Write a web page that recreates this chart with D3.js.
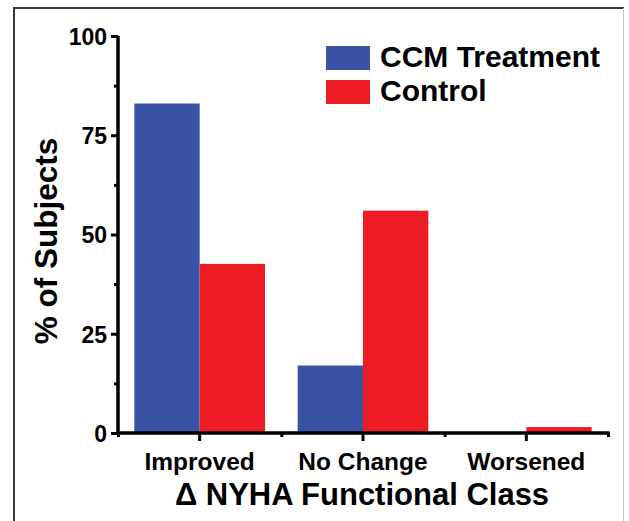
<!DOCTYPE html>
<html>
<head>
<meta charset="utf-8">
<script src="https://cdn.jsdelivr.net/npm/d3@7"></script>
<style>
  html, body { margin: 0; padding: 0; background: #fff; }
  svg { display: block; }
  text { font-family: "Liberation Sans", Arial, Helvetica, sans-serif; font-weight: bold; fill: #000; }
</style>
</head>
<body>
<script>
const categories = ["Improved", "No Change", "Worsened"];
const seriesNames = ["CCM Treatment", "Control"];
const ccmValues = [83, 17, 0];
const controlValues = [42.6, 56, 1.5];
const yTicks = [0, 25, 50, 75, 100];
const yMinorTicks = [12.5, 37.5, 62.5, 87.5];
const colors = ["#3953A4", "#ED1C24"];

const W = 629, H = 521;
const svg = d3.select("body").append("svg").attr("width", W).attr("height", H);

// frame
svg.append("line").attr("x1", 14).attr("y1", 8).attr("x2", 14).attr("y2", H).attr("stroke", "#3a3a3a").attr("stroke-width", 2);
svg.append("line").attr("x1", 13).attr("y1", 8).attr("x2", 624).attr("y2", 8).attr("stroke", "#3a3a3a").attr("stroke-width", 2);
svg.append("line").attr("x1", 623.5).attr("y1", 8).attr("x2", 623.5).attr("y2", H).attr("stroke", "#c8c8c8").attr("stroke-width", 1);

const x0 = d3.scaleBand().domain(categories).range([118, 608]).paddingInner(0.2).paddingOuter(0.1);
const x1 = d3.scaleBand().domain(seriesNames).range([0, x0.bandwidth()]);
const y = d3.scaleLinear().domain([0, 100]).range([433, 36]);
const xBound = d3.scaleLinear().domain([0, categories.length]).range([118, 608]);

const data = categories.map((c, i) => ({ cat: c, vals: [ccmValues[i], controlValues[i]] }));

// bars
const g = svg.append("g");
data.forEach(d => {
  d.vals.forEach((v, j) => {
    g.append("rect")
      .attr("x", x0(d.cat) + x1(seriesNames[j]))
      .attr("y", y(v))
      .attr("width", x1.bandwidth())
      .attr("height", y(0) - y(v))
      .attr("fill", colors[j]);
  });
});

// y axis
const yAxis = svg.append("g").attr("transform", "translate(118,0)")
  .call(d3.axisLeft(y).tickValues(yTicks).tickSize(7).tickPadding(4).tickFormat(d3.format("d")));
const yMinor = svg.append("g").attr("transform", "translate(118,0)")
  .call(d3.axisLeft(y).tickValues(yMinorTicks).tickSize(4).tickFormat(""));
[yAxis, yMinor].forEach(a => {
  a.select(".domain").attr("stroke", "#000").attr("stroke-width", 3).attr("d", "M0," + y(100) + "V" + y(0));
  a.selectAll(".tick line").attr("stroke", "#000").attr("stroke-width", 3);
});
yAxis.selectAll("text").style("font-size", "23px").attr("dy", "0.36em");

// x axis
const xAxis = svg.append("g").attr("transform", "translate(0,433)")
  .call(d3.axisBottom(x0).tickSize(8).tickPadding(12));
const xMinor = svg.append("g").attr("transform", "translate(0,433)")
  .call(d3.axisBottom(xBound).tickValues(d3.range(categories.length + 1)).tickSize(4).tickFormat(""));
[xAxis, xMinor].forEach(a => {
  a.select(".domain").attr("stroke", "#000").attr("stroke-width", 3).attr("d", "M116.5,0H609.5");
  a.selectAll(".tick line").attr("stroke", "#000").attr("stroke-width", 3);
});
xAxis.selectAll("text").style("font-size", "24.5px");

// axis titles
svg.append("text").attr("x", 362).attr("y", 505).attr("text-anchor", "middle")
  .style("font-size", "31px").text("Δ NYHA Functional Class");
svg.append("text").attr("transform", "translate(57,241) rotate(-90)").attr("text-anchor", "middle")
  .style("font-size", "31.5px").text("% of Subjects");

// legend
const leg = svg.append("g");
seriesNames.forEach((s, i) => {
  leg.append("rect").attr("x", 326).attr("y", 46 + i * 34).attr("width", 44).attr("height", 24).attr("fill", colors[i]);
  leg.append("text").attr("x", 380).attr("y", 67 + i * 34).style("font-size", "30px").text(s);
});
</script>
</body>
</html>
